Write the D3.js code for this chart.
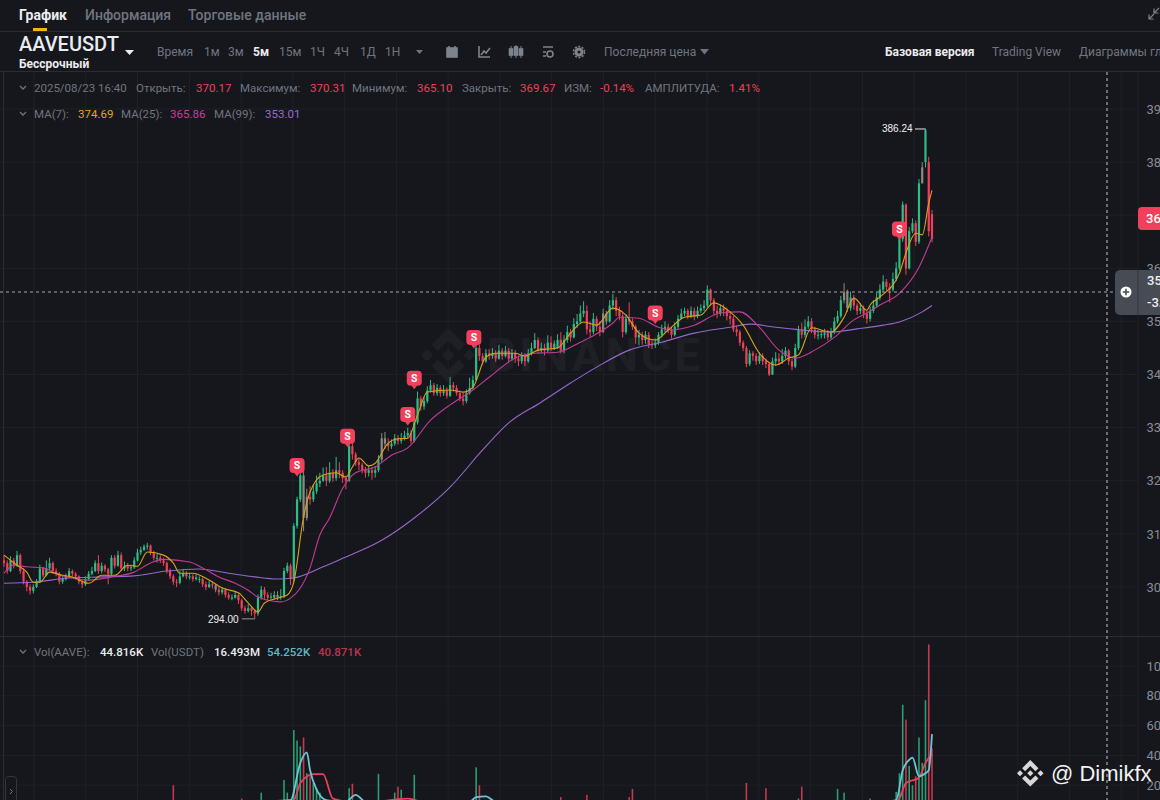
<!DOCTYPE html>
<html><head><meta charset="utf-8">
<script src="https://cdn.jsdelivr.net/npm/d3@7"></script>
<style>html,body{margin:0;padding:0;background:#16171c;overflow:hidden}svg{display:block}text{font-family:Roboto,"Noto Sans",sans-serif}</style>
</head><body><svg id="c" width="1160" height="800"></svg>
<script>
const closes=[304.5,303,305,304,306,303,301,300,
299.3,300,301,303.5,302.2,303.5,304.5,303,302.5,301,
301.5,302,303,302.5,302,301,300.5,301.5,302.5,303,
304.5,303,304,303.3,302.5,305.5,304,306,303.5,304,
303.5,303.7,305,306.5,307,307.6,307.8,306.5,305.5,305.5,
305,304.5,303,302,301,300.8,302,302.5,302,302,
301.5,301.8,301.5,300.5,300,300.5,300.3,299.5,299,299.5,298.5,
298,298,298.5,297.5,296,295.5,296,295.5,295,298,
299.5,298.5,298,298.2,298.5,298,298.3,303,304,301.5,311.5,
316.5,321,313,317,316.5,318,319.5,320,321,320,
321.5,320.5,322,321.5,320.5,320,326.5,325,323.5,323,
322,321.5,322,321.5,322,324,328,327,326.5,327,
328,327.5,328,328.5,329,327.5,331,335.5,334,335,
337,338,336.5,337.5,336.5,337,336,338,337.5,336.5,
335.5,335,336.5,337.5,339,345,343.5,342.5,344,
343.5,344,343,344.5,343.5,344.5,343,344,343,342.5,
343.5,342.5,344,345,346.5,344.5,345,344.5,346,345,345.8,
346.5,344.5,346.5,348,347,349.5,350,351.5,352,348.5,
348,350.5,349,348,351.5,350,353,354,352,351,
348,350.5,350,349,347,347.5,346.5,347.5,345.7,345.5,
346,347.5,348.5,349,348.5,347.5,349,350.5,351.5,
352,351,352,351,352,352.5,353,356,354,352,
351.5,352.5,352,351,350.5,348.5,348,346,345,342,
344,343.5,342.5,343.5,342.5,342,340,342.5,343,342.5,
343.5,344.5,342.5,341.5,345,348.5,347.5,349,350,348.5,
347.5,347.5,347.6,347.8,347,348,350,351,354,355.5,352.5,
354.5,353,352,352.5,351.5,350.5,352,353,354.5,356,
357.5,356.5,356,358,360,365.5,372,360,367,368.5,
365,376,379,386,367,365.5];
const opens=[305,304.5,303,305,304,306,303,301,
300,299.3,300,301,303.5,302.2,303.5,304.5,303,302.5,
301,301.5,302,303,302.5,302,301,300.5,301.5,302.5,
303,304.5,303,304,303.3,302.5,305.5,304,306,303.5,
304,303.5,303.7,305,306.5,307,307.6,307.8,306.5,305.5,
305.5,305,304.5,303,302,301,300.8,302,302.5,302,
302,301.5,301.5,301.5,300.5,300,300.5,300.3,299.5,299,299.5,
298.5,298,298,298.5,297.5,296,295.5,296,295.5,295,
298,299.5,298.5,298,298,298.5,298,298.3,303,304,301.5,
311.5,316.5,321,313,317,316.5,318,319.5,320,321,
320,321.5,320.5,322,321.5,320.5,320,326.5,325,323.5,
323,322,321.5,322,321.5,322,324,328,327,326.5,
327,328,327.5,328,328.5,329,327.5,331,335.5,334,
335,337,338,336.5,337.5,336.5,337,336,338,337.5,
336.5,335.5,335,336.5,337.5,339,345,343.5,342.5,
344,343.5,344,343,344.5,343.5,344.5,343,344,343,
342.5,343.5,342.5,344,345,346.5,344.5,345,344.5,346,
345,345,346.5,344.5,346.5,348,347,349.5,350,351.5,352,
348.5,348,350.5,349,348,351.5,350,353,354,352,
351,348,350.5,350,349,347,347.5,346.5,347.5,345.7,
345.5,346,347.5,348.5,349,348.5,347.5,349,350.5,
351.5,352,351,352,351,352,352.5,353,356,354,
352,351.5,352.5,352,351,350.5,348.5,348,346,345,
342,344,343.5,342.5,343.5,342.5,342,340,342.5,343,
342.5,343.5,344.5,342.5,341.5,345,348.5,347.5,349,350,
348.5,347.5,347.5,347.5,347.8,347,348,350,351,354,355.5,
352.5,354.5,353,352,352.5,351.5,350.5,352,353,354.5,
356,357.5,356.5,356,358,360,365.5,372,360,367,
368.5,365,376,380,380,370.2];
const highs=[306,305,305.8,305.5,306.8,306.3,303.5,301.3,
300.5,300.5,301.5,304.2,303.8,305,305.5,304.8,303.5,302.8,
302,302.5,303.6,303.3,302.8,302.2,301.3,302,303,303.8,
305,306,304.6,304.3,303.6,306,306,306.8,306.5,304.8,
304.5,304.2,305.6,307.2,307.6,308,308.3,308,306.8,306.2,
306,305.5,304.8,303.5,302.4,301.5,303,303.4,303,302.6,
302.4,302.4,302,301.8,301,301.2,301,300.6,300,300,299.8,
299,298.6,299.2,298.8,297.8,296.5,296.8,296.4,295.8,298.6,
300.2,300,299,298.9,299.2,299.2,299.6,303.6,304.6,304.4,312,
317,321.6,323.8,318.5,319,319.2,321,321.5,322.5,322.6,
323.5,322.2,324.5,323.5,322,321,327.7,328,325.4,324.2,
323.4,322.6,322.8,322.6,322.8,324.8,329,329.2,328,327.8,
328.8,328.6,329,329.4,330,329.5,332,336.8,336,335.8,
337.8,339,338.4,338.2,338,338,337.6,339.5,338.6,338,
337,336.6,337.2,339.4,339.8,345.6,345.6,344,344.8,
344.8,345,344.6,345.6,345,345.4,345,344.8,344.6,343.6,
344.2,344,344.8,346,347.8,347,346,345.8,347.4,347.2,346.4,
347.6,348,347.4,349.2,348.6,350.6,351.4,353,353.8,353,
350,351.6,351,350,352.4,352,354,355.2,354.6,352.8,
351.6,351.4,353.6,350.6,349.4,348.4,348,348.2,348,346.4,
346.8,348,349.4,350,349.6,349,349.8,351.2,352.4,
352.6,352.4,352.8,352.6,352.8,353.2,354,356.8,356.2,354.4,
353,353.2,353.2,352.6,351.6,351,349.2,348.4,346.4,345.4,
344.6,344.4,344,344.2,344,343,342.4,343.2,344.2,344,
344.8,345.2,344.8,343,345.8,349.2,349.8,350.4,351,350.6,
349,348.4,348.3,348.6,348.4,348.8,350.8,352,354.8,357.2,356,
355.6,355,353.4,353.4,353,352,352.8,354,355.4,357,
358.7,358,357.2,359.2,361.2,366.4,372.6,372.2,367.8,369.4,
369,376.8,380,386.24,381,371];
const lows=[303.8,302.5,302.8,303.5,303.8,302.5,300.5,299.2,
298.6,298.8,299.8,300.8,301.8,302,303.2,302.5,302,300.5,
300.6,301.2,301.8,302,301.4,300.5,299.8,300.2,301.2,302.2,
302.8,302.5,302.6,302.8,300.5,302.2,303.5,303.8,303,303,
303,303,303.4,304.8,306,306.8,307,306,305,304.6,
304.5,304,302.5,301.5,300.4,300,300.5,301.8,301.5,301.4,
301,301.2,300.8,300,299.4,299.8,299.7,299,298.4,298.6,298,
297.6,297.5,297.8,296.8,295.5,295,295.2,294.6,294,294.6,
297.6,297.8,297.5,297.6,297.6,297.5,297.6,297.9,302.6,300.4,301,
311,316,310.5,312.5,315.5,316,317.5,318.8,319.8,319,
319.6,319.8,320,320.5,319.6,318.4,319.8,324,322.8,322,
321.4,320.6,320.8,320.2,320.6,321.6,323.5,326,325.6,326,
326.6,326.8,327,327.6,328,327,327.2,330.6,333.2,333.4,
334.6,336.6,336,336,335.8,336,335.5,335.8,336.8,336,
335,334.2,334.6,336.2,337.2,338.8,342.6,341.8,342.2,
342.8,343,342.4,342.8,342.8,343.2,342.4,342.6,342.2,341.6,
342,341.6,342.2,343.6,344.8,344,344,343.6,344.2,344.4,344.6,
344.8,344,344,346,346.2,346.8,348.8,349.6,350.8,347.6,
347,347.6,348.2,347.2,347.8,349.4,349.8,352.2,351,350.2,
347,347.6,349.4,348.4,345.8,345.5,345.6,345.8,345,344.8,
345,345.6,347,348,347.8,346.8,347.2,348.6,350.6,
351,350.4,350.6,350.2,350.6,351.6,352,352.6,353.2,351.2,
350.6,351,351,350.2,349.4,348,347.2,345.4,344.4,341.4,
341.6,342.6,341.8,342,341.8,341.2,339.7,339.9,341.6,341.8,
342,343,341.8,340.8,341.2,344.6,346.8,347,348.6,347.8,
346.8,346.6,346.8,346.8,346.4,346.6,347.6,349.6,350.6,353.4,351.8,
352,352.2,351.2,351.4,350.6,349.6,350,351.6,352.6,354,
355.6,355.8,353.6,355.6,357.6,359.6,365,358.8,359.8,366.6,
364.2,364.6,376,379,366,364.9];
const greyCandles=[65,84,92,93,116,117,184,185,258,259,282];
const volumes=[6,5,7,5,8,5,6,4,6,5,
5,4,6,7,5,6,7,5,4,6,
4,5,6,4,5,6,4,5,6,5,
7,6,5,4,6,8,5,7,6,4,
5,4,6,7,6,5,6,7,6,5,
6,7,20,8,9,6,5,4,5,4,
5,4,6,5,4,5,6,5,4,6,
7,6,5,11,9,8,7,8,9,15,
8,6,5,6,5,7,23.5,15,9,57,
50,46,52,28,26,21.5,18,15,9,8,
7,6,8,7,6,7,18,21,9,7,
6,5,7,6,8,27.6,9,7,6,5,
15,19,17,7,6,9,27,9,7,6,
9,7,6,7,5,6,5,8,6,5,
6,5,6,7,8,32,20,7,6,6,
5,6,5,7,5,6,5,6,5,4,
5,6,7,6,8,7,5,6,7,5,
8,12,7,8,6,9,7,8,9,13.5,
7,6,5,7,8,6,7,8,9,7,
9,7,12,17.5,8,6,7,5,6,5,
5,6,7,5,4,6,5,7,6,5,
4,5,6,4,5,6,7,9,8,6,
5,6,5,6,7,8,7,9,21.5,10,
8,7,6,7,18,8,9,7,6,5,
6,7,6,7,11,19,8,9,8,6,
5,6,5,6,7,8,17.5,9,15,8,
7,6,5,6,5,6,11,7,8,9,
10,7,6,8,15.5,28,74,64,33,20,
26,52,35,77,114.5,44.8];
const ma7At=[0,4,7,9,11,14,18,21,26,30,34,38,41,44,49,52,54,58,63,67,72,75,78,80,84,87,89,92,94,98,102,105,107,109,112,114,118,121,124,127,130,137,141,144,148,151,157,160,164,170,174,178,182,187,191,195,200,204,209,214,218,223,227,232,237,241,244,248,254,258,261,265,266,269,275,277,280,282,284,285];
const ma7=[306,304.1,302.8,300.9,300.9,302.8,302.2,301.9,300.7,302.2,302.2,304.1,303.9,306.6,306,304.5,302.6,302.6,301.3,299.8,298.9,297,295.3,297,297.9,298.5,300.9,313.2,317.9,321.1,321.5,320.7,322.6,324.3,322.8,323.3,327.1,327.9,328,332.4,336.7,337.1,336.7,337.6,343.3,344,344,343.5,344.6,345,347.8,349.9,349.3,352.5,351.2,347.8,346.5,348.4,350.8,351.2,353.5,351.8,349.3,344,341.8,343.1,343.7,348.8,348,350.8,354.4,352.1,353.1,354.6,359.1,362.9,366.6,366.3,372.3,374.69];
const ma25At=[0,3,7,12,17,21,26,33,40,45,49,57,61,66,71,75,78,85,88,91,94,97,100,104,108,114,119,124,131,137,144,149,157,163,170,177,180,187,189,195,201,205,212,220,226,232,238,243,249,255,261,265,269,275,281,285];
const ma25=[302.6,304.1,303.8,303.6,302.2,301.7,301.3,301.9,302.8,304.5,305.2,304.7,303.6,301.9,300.7,299.4,298.1,297.2,297.9,299.8,303.6,309.8,313,318.6,321.5,322.6,324.8,326.2,331.4,334.3,337.1,339.5,343.1,344,344.2,346.1,347,349.7,350.8,350.6,348.9,348.4,349.3,351.6,351.8,348.9,344.6,343.1,344.6,347,350.3,351.6,353.1,355.3,360.2,365.86];
const ma99At=[0,9,20,30,40,50,60,69,77,84,89,98,104,116,126,137,147,155,165,174,182,192,202,212,223,229,237,245,254,262,270,275,282,285];
const ma99=[300.7,300.9,301.7,301.9,302.1,303,303.4,302.6,301.9,301.5,301.7,303.8,305.4,308.8,313,318.8,325.8,330.9,334.8,338.4,341.4,344.6,346.1,347.8,348.9,349.5,348.9,348.4,348,348.6,349.3,349.9,351.8,353.01];
const volFastAt=[0,40,88,91,93,94,96,99,105,108,111,130,143,145,148,151,200,240,265,274,276,278,279,281,283,284,285];
const volFast=[8,7,10,35,42,30,17,10,9,13.5,9,9,9,12,12.5,9,8,8,8,10,30,37,38.5,26,28,30,54.25];
const volSlowAt=[0,60,89,91,95,98,101,110,124,130,200,250,274,275,277,281,283,285];
const volSlow=[8,8,10,21.5,27.5,27.5,11,8,11,8,8,8,8,11,21.5,25,35,40.87];
const priceGrid=[390,380,370,360,350,340,330,320,310,300];
const priceLabels=[390,380,360,350,340,330,320,310,300];
const volTicks=[100,80,60,40,20];
const signalAt=[90,105.5,124,126,144.3,200,275];
const signalPrice=[322.9,328.4,332.5,339.3,347,351.6,367.4];
const gridAt=[9.2,25.1,41,56.9,72.8,88.7,104.6,120.5,136.4,152.3,168.2,184.1,200,215.9,231.8,247.7,263.6,279.5,295.4,311.3,327.2,343.1];
const tabs=["График","Информация","Торговые данные"];
const intervals=["Время","1м","3м","5м","15м","1Ч","4Ч","1Д","1Н"];

const svg=d3.select("#c");
const GREEN="#2ebd85",RED="#ee4058",GREY="#8c8a82",LINE="#2a2d34",GRID="#1e2128",MUTED="#6f7580",TXT="#eaecef";
const x=d3.scaleLinear().domain([0,285]).range([4,932]);
const y=d3.scaleLinear().domain([300,390]).range([587,109]);
const yVol=d3.scaleLinear().domain([0,100]).range([815,666]);
const LOGO="M38.73 53.2L63.3 28.63l24.59 24.58 14.3-14.3L63.3 0 24.43 38.9zM0 63.31l14.3-14.3 14.3 14.3-14.3 14.3zM38.73 73.41L63.3 97.99l24.59-24.58 14.31 14.28-.01.01L63.3 126.61 24.43 87.73l-.02-.02zM97.99 63.31l14.3-14.3 14.31 14.3-14.3 14.3zM77.82 63.3L63.3 48.78 52.57 59.51l-1.23 1.24-2.54 2.54 14.5 14.51 14.52-14.5z";
function t(g,px,py,s,size,fill,weight,anchor){return g.append("text").attr("x",px).attr("y",py).text(s).attr("font-size",size).attr("fill",fill).attr("font-weight",weight||400).attr("text-anchor",anchor||"start");}

const grid=svg.append("g");
grid.selectAll(".v").data(gridAt).join("line").attr("x1",d=>x(d)).attr("x2",d=>x(d)).attr("y1",72).attr("y2",800).attr("stroke",GRID);
grid.selectAll(".h").data(priceGrid).join("line").attr("x1",0).attr("x2",1138).attr("y1",d=>y(d)).attr("y2",d=>y(d)).attr("stroke",GRID);
grid.selectAll(".hv").data(volTicks).join("line").attr("x1",0).attr("x2",1138).attr("y1",d=>yVol(d)).attr("y2",d=>yVol(d)).attr("stroke",GRID);
grid.append("line").attr("x1",3.5).attr("x2",3.5).attr("y1",72).attr("y2",800).attr("stroke",LINE);
grid.append("line").attr("x1",1138).attr("x2",1138).attr("y1",72).attr("y2",800).attr("stroke",GRID);

// watermark
const wm=svg.append("g");
wm.append("path").attr("d",LOGO).attr("transform","translate(421,328) scale(0.43)").attr("fill","#1e2025");
t(wm,487,371,"BINANCE",46,"#1e2025",700).attr("letter-spacing",3);

// header
[31.5,71.5,636.5].forEach(v=>svg.append("line").attr("x1",0).attr("x2",1160).attr("y1",v).attr("y2",v).attr("stroke",LINE));
const tabX=[19,85,188];
tabs.forEach((s,i)=>t(svg,tabX[i],20,s,14,i===0?TXT:MUTED,i===0?700:500));
svg.append("rect").attr("x",33).attr("y",28).attr("width",14).attr("height",3).attr("fill","#f0b90b");
t(svg,19,51,"AAVEUSDT",20,TXT,500);
t(svg,19,68,"Бессрочный",12,TXT,700);
svg.append("path").attr("d","M125 50h9l-4.5 5z").attr("fill",TXT);
const intX=[157,204,228,253,279,310,334,360,385];
intervals.forEach((s,i)=>t(svg,intX[i],56,s,12,i===3?TXT:MUTED,i===3?700:400));
svg.append("path").attr("d","M416 50h7l-3.5 4z").attr("fill",MUTED);
const ic=svg.append("g").attr("fill","none").attr("stroke","#7d838d").attr("stroke-width",1.6);
ic.append("rect").attr("x",447).attr("y",48).attr("width",10).attr("height",9).attr("fill","#7d838d");
ic.append("path").attr("d","M449 46v3M455 46v3");
ic.append("path").attr("d","M479 46v11h11M481 55l3-4 2 2 4-5");
ic.append("path").attr("d","M511 46v12M516 45v13M521 46v12").attr("stroke-width",1);
ic.append("rect").attr("x",509.5).attr("y",49).attr("width",3).attr("height",6).attr("fill","#7d838d");
ic.append("rect").attr("x",514.5).attr("y",47).attr("width",3).attr("height",8).attr("fill","#7d838d");
ic.append("rect").attr("x",519.5).attr("y",49).attr("width",3).attr("height",6).attr("fill","#7d838d");
ic.append("path").attr("d","M543 47h10M543 52h3M543 56h3");
ic.append("circle").attr("cx",550).attr("cy",54).attr("r",3);
ic.append("circle").attr("cx",579).attr("cy",52).attr("r",3).attr("stroke-width",3);
ic.append("circle").attr("cx",579).attr("cy",52).attr("r",5.5).attr("stroke-width",1.5).attr("stroke-dasharray","2 1.5");
t(svg,604,56,"Последняя цена",12,MUTED);
svg.append("path").attr("d","M700 49h9l-4.5 5.5z").attr("fill",MUTED);
t(svg,885,56,"Базовая версия",12,TXT,700);
t(svg,992,56,"Trading View",12,MUTED);
t(svg,1079,56,"Диаграммы глубины",12,MUTED);
svg.append("path").attr("d","M1149 19l5-5M1149 14.5v4.5h4.5M1154 13l5-5M1154 8.5v4.5h4.5").attr("stroke","#7d838d").attr("fill","none").attr("stroke-width",1.2);
function chevron(py){svg.append("path").attr("d",`M20 ${py-2}l3 3 3-3`).attr("fill","none").attr("stroke",MUTED).attr("stroke-width",1.3);}
chevron(88);chevron(114);chevron(652);
[["2025/08/23 16:40",34,MUTED],["Открыть:",136,MUTED],["370.17",196,RED],["Максимум:",240,MUTED],["370.31",310,RED],["Минимум:",352,MUTED],["365.10",417,RED],["Закрыть:",462,MUTED],["369.67",520,RED],["ИЗМ:",564,MUTED],["-0.14%",600,RED],["АМПЛИТУДА:",645,MUTED],["1.41%",729,RED]].forEach(d=>t(svg,d[1],92,d[0],11.5,d[2]));
[["MA(7):",34,MUTED],["374.69",78,"#e0a71c"],["MA(25):",121,MUTED],["365.86",170,"#c83f9b"],["MA(99):",214,MUTED],["353.01",265,"#9a6ad6"]].forEach(d=>t(svg,d[1],118,d[0],11.5,d[2]));
[["Vol(AAVE):",34,MUTED,400],["44.816K",100,TXT,500],["Vol(USDT)",151,MUTED,400],["16.493M",214,TXT,500],["54.252K",267,"#5fb8c4",500],["40.871K",318,"#b8354f",500]].forEach(d=>t(svg,d[1],656,d[0],11.5,d[2],d[3]));

// candles
const idx=d3.range(closes.length);
const color=i=>greyCandles.includes(i)?GREY:(closes[i]>=opens[i]?GREEN:RED);
svg.append("g").selectAll("line").data(idx).join("line")
  .attr("x1",i=>x(i)).attr("x2",i=>x(i)).attr("y1",i=>y(highs[i])).attr("y2",i=>y(lows[i])).attr("stroke",color).attr("stroke-width",1);
svg.append("g").selectAll("rect").data(idx).join("rect")
  .attr("x",i=>x(i)-1.1).attr("width",2.2)
  .attr("y",i=>y(Math.max(opens[i],closes[i]))).attr("height",i=>Math.max(1,Math.abs(y(opens[i])-y(closes[i])))).attr("fill",color);

// moving averages
const lineOf=(at,vals,sy)=>d3.line().x((d,i)=>x(at[i])).y(d=>sy(d)).curve(d3.curveMonotoneX)(vals);
[[ma99At,ma99,"#9568cc",1.1],[ma25At,ma25,"#c23c94",1.1],[ma7At,ma7,"#dba21a",1.1]].forEach(m=>
  svg.append("path").attr("d",lineOf(m[0],m[1],y)).attr("fill","none").attr("stroke",m[2]).attr("stroke-width",m[3]));

// extremes
t(svg,882,132,"386.24",10,"#f0f0f0").style("font-family","'Liberation Sans'");
svg.append("line").attr("x1",915).attr("x2",x(283)).attr("y1",y(386.24)).attr("y2",y(386.24)).attr("stroke","#e8e8e8");
t(svg,208,623,"294.00",10,"#f0f0f0").style("font-family","'Liberation Sans'");
svg.append("line").attr("x1",242).attr("x2",x(77)).attr("y1",y(294)).attr("y2",y(294)).attr("stroke","#9a9a9a");

// S markers
const sg=svg.append("g").selectAll("g").data(signalAt).join("g")
  .attr("transform",(d,i)=>`translate(${x(d)},${y(signalPrice[i])})`);
sg.append("rect").attr("x",-7.5).attr("y",-7.5).attr("width",15).attr("height",15).attr("rx",4).attr("fill","#f0405c");
sg.append("path").attr("d","M-3 7h6l-3 4z").attr("fill","#f0405c");
sg.append("text").attr("text-anchor","middle").attr("y",3.8).attr("font-size",10.5).attr("font-weight",700).attr("fill","#fff").text("S");

// volume
svg.append("g").selectAll("rect").data(idx).join("rect")
  .attr("x",i=>x(i)-0.8).attr("width",1.6).attr("y",i=>yVol(volumes[i])).attr("height",i=>yVol(0)-yVol(volumes[i]))
  .attr("fill",i=>closes[i]>=opens[i]?"#2a9d72":"#c9374f");
svg.append("path").attr("d",lineOf(volSlowAt,volSlow,yVol)).attr("fill","none").attr("stroke","#e8405f").attr("stroke-width",1.8);
svg.append("path").attr("d",lineOf(volFastAt,volFast,yVol)).attr("fill","none").attr("stroke","#6cc5d2").attr("stroke-width",1.8);

// axes
const styleAxis=g=>{g.select(".domain").remove();g.selectAll("text").attr("fill","#868c96").attr("font-size",13).attr("font-family","Roboto");};
svg.append("g").attr("transform","translate(1146.5,0)").call(d3.axisRight(y).tickValues(priceLabels).tickSize(0).tickPadding(0).tickFormat(d=>d.toFixed(2))).call(styleAxis);
svg.append("g").attr("transform","translate(1146.5,0)").call(d3.axisRight(yVol).tickValues(volTicks).tickSize(0).tickPadding(0).tickFormat(d=>d+".000K")).call(styleAxis);

// crosshair and tags
svg.append("line").attr("x1",0).attr("x2",1115).attr("y1",292).attr("y2",292).attr("stroke","#a3a7ad").attr("stroke-dasharray","3 3").attr("stroke-width",1.2);
svg.append("line").attr("x1",1107).attr("x2",1107).attr("y1",72).attr("y2",800).attr("stroke","#a3a7ad").attr("stroke-dasharray","3 3").attr("stroke-width",1.2);
svg.append("rect").attr("x",1138).attr("y",207).attr("width",40).attr("height",23).attr("rx",4).attr("fill","#f0405c");
t(svg,1146,223,"369.67",13,"#fff",500);
svg.append("rect").attr("x",1115).attr("y",270).attr("width",60).attr("height",45).attr("rx",5).attr("fill","#474b53");
svg.append("line").attr("x1",1138).attr("x2",1138).attr("y1",270).attr("y2",315).attr("stroke","#33363d");
svg.append("circle").attr("cx",1126).attr("cy",292).attr("r",5.5).attr("fill","#fff");
svg.append("path").attr("d","M1122.8 292h6.4M1126 288.8v6.4").attr("stroke","#474b53").attr("stroke-width",1.6);
t(svg,1147,285,"355.53",13,"#f0f1f2",500);
t(svg,1147,307,"-3.89%",13,"#f0f1f2",500);

// left collapse button
svg.append("rect").attr("x",5.5).attr("y",776.5).attr("width",11).attr("height",30).attr("rx",3).attr("fill","#16171c").attr("stroke","#33363d");
svg.append("path").attr("d","M10 789l2.5 2.5-2.5 2.5").attr("fill","none").attr("stroke","#6f7580");

// signature
svg.append("path").attr("d",LOGO).attr("transform","translate(1017,760) scale(0.21)").attr("fill","#d8d8d8");
t(svg,1051,781,"@ Dimikfx",22,"#f2f2f2",400).style("font-family","'Liberation Sans'");
</script></body></html>
